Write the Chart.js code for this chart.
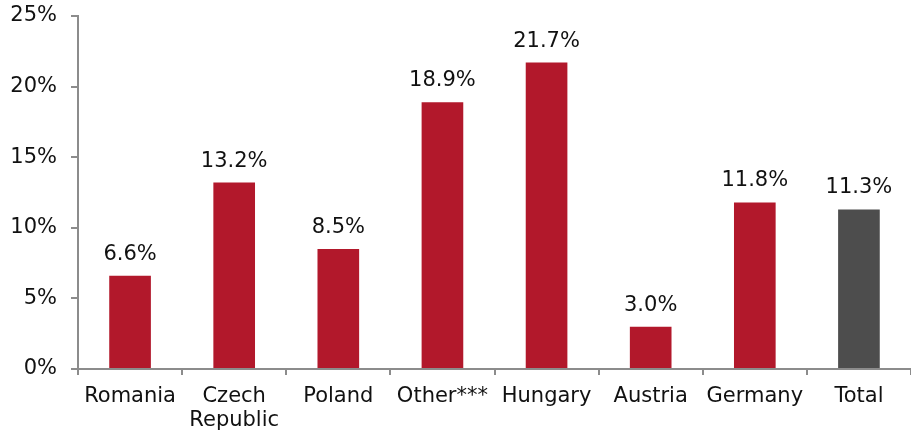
<!DOCTYPE html>
<html>
<head>
<meta charset="utf-8">
<script src="https://cdn.jsdelivr.net/npm/chart.js@4"></script>
<style>
  html, body { margin: 0; padding: 0; background: #fff; }
  #wrap { width: 911px; height: 435px; }
</style>
</head>
<body>
<div id="wrap"><canvas id="growthChart" width="911" height="435"></canvas></div>
<script>
const categories = ['Romania', ['Czech', 'Republic'], 'Poland', 'Other***', 'Hungary', 'Austria', 'Germany', 'Total'];
const growthValues = [6.6, 13.2, 8.5, 18.9, 21.7, 3.0, 11.8, 11.3];
const barColors = ['#B2182B', '#B2182B', '#B2182B', '#B2182B', '#B2182B', '#B2182B', '#B2182B', '#4D4D4D'];
const yTicks = [0, 5, 10, 15, 20, 25];

// draws the % value above each bar
const valueLabels = {
    id: 'valueLabels',
    afterDatasetsDraw(chart) {
        const ctx = chart.ctx;
        const meta = chart.getDatasetMeta(0);
        ctx.save();
        ctx.font = '21px "DejaVu Sans"';
        ctx.fillStyle = '#111';
        ctx.textAlign = 'center';
        ctx.textBaseline = 'alphabetic';
        meta.data.forEach((bar, i) => {
            ctx.fillText(growthValues[i].toFixed(1) + '%', bar.x, bar.y - 16);
        });
        ctx.restore();
    }
};

document.addEventListener('DOMContentLoaded', function () {
    const ctx = document.getElementById('growthChart').getContext('2d');

    new Chart(ctx, {
        type: 'bar',
        data: {
            labels: categories,
            datasets: [{
                data: growthValues,
                backgroundColor: barColors,
                categoryPercentage: 0.4,
                barPercentage: 1.0
            }]
        },
        options: {
            responsive: false,
            animation: false,
            layout: { padding: 0 },
            plugins: {
                legend: { display: false },
                tooltip: { enabled: false }
            },
            scales: {
                y: {
                    min: 0,
                    max: 25,
                    afterBuildTicks: (axis) => { axis.ticks = yTicks.map(v => ({ value: v })); },
                    afterFit: (axis) => {
                        axis.width = 78;
                        axis.paddingTop = 16; // tick padding otherwise pushes the plot down
                    },
                    border: { color: '#8c8c8c', width: 2 },
                    grid: { drawOnChartArea: false, color: '#8c8c8c', lineWidth: 2, tickLength: 7 },
                    ticks: {
                        color: '#111',
                        padding: 14,
                        font: { family: 'DejaVu Sans', size: 21 },
                        callback: function (value) { return value + '%'; }
                    }
                },
                x: {
                    afterFit: (axis) => { axis.height = 66; },
                    border: { color: '#8c8c8c', width: 2 },
                    grid: { drawOnChartArea: false, color: '#8c8c8c', lineWidth: 2, tickLength: 6, offset: true },
                    ticks: {
                        color: '#111',
                        padding: 10,
                        maxRotation: 0,
                        autoSkip: false,
                        font: { family: 'DejaVu Sans', size: 21, lineHeight: 1.13 }
                    }
                }
            }
        },
        plugins: [valueLabels]
    });
});
</script>
</body>
</html>
